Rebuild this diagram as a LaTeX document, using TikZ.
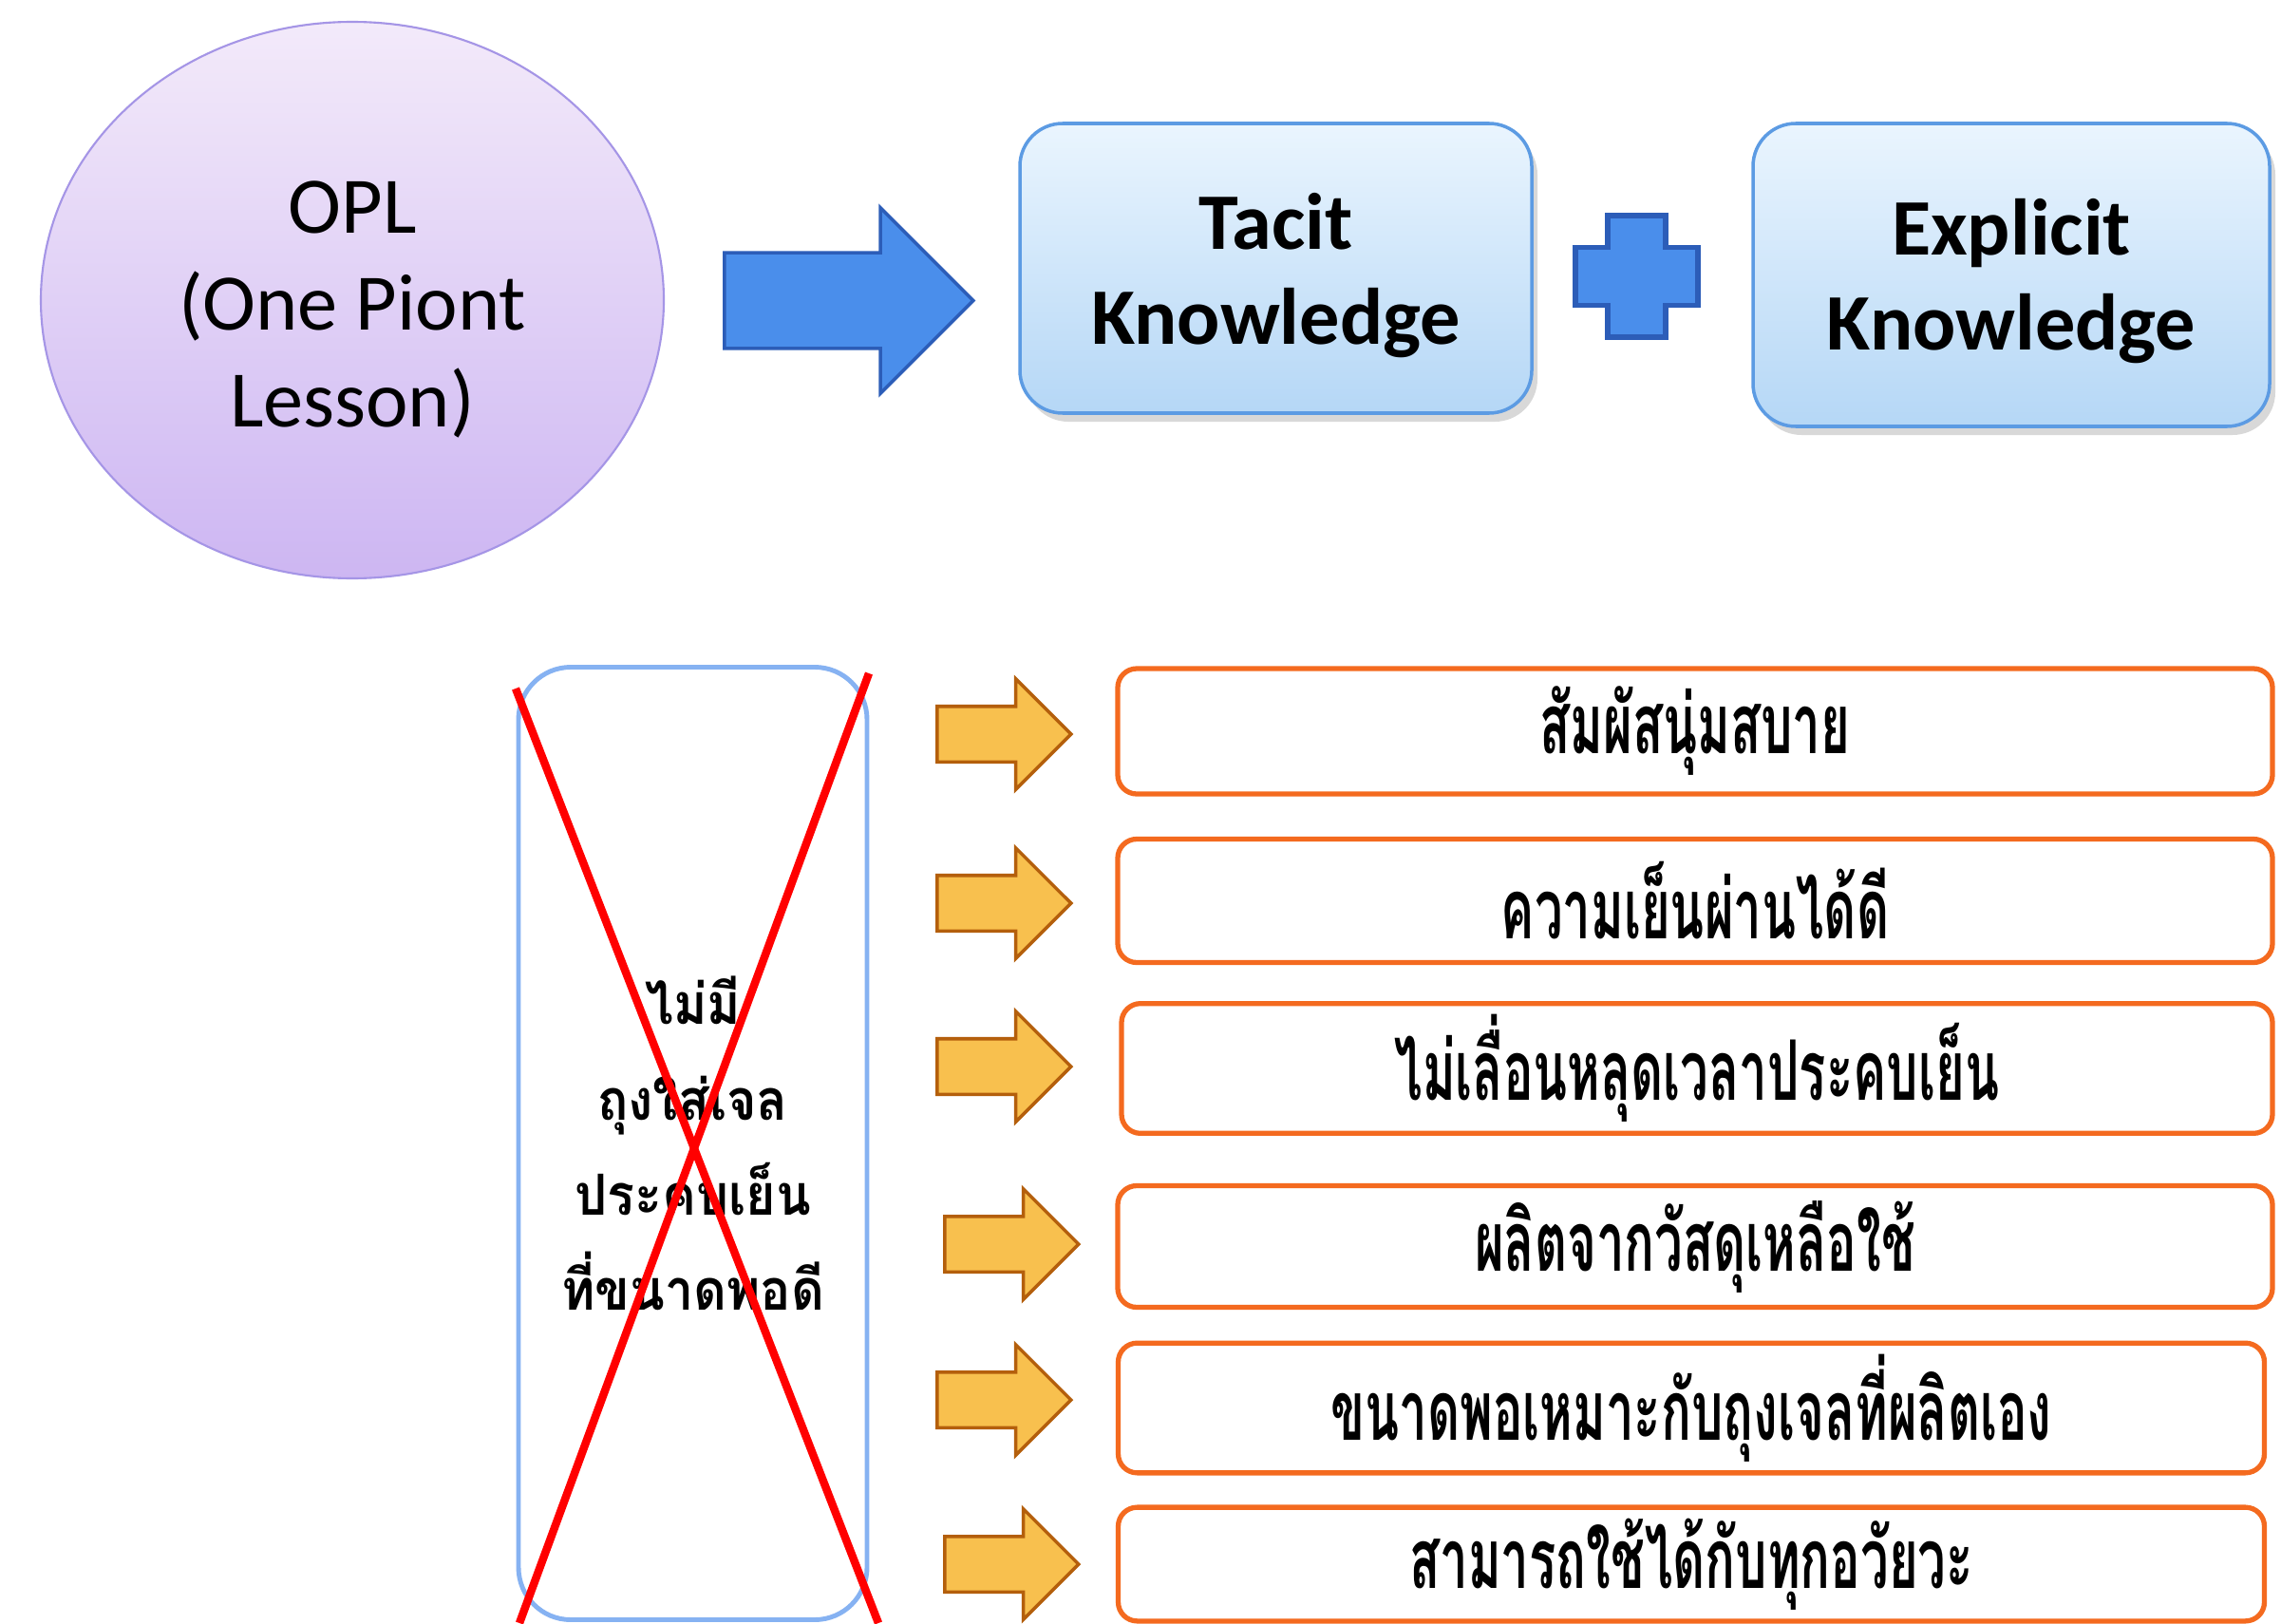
\documentclass[tikz,border=0pt]{standalone}
\usepackage{fontspec}
\setmainfont{Carlito}
\newfontfamily\thaifont[Script=Thai,FakeStretch=0.9]{Loma}
\newfontfamily\thainarrow[Script=Thai,FakeStretch=0.6]{Loma}
\usetikzlibrary{shapes.geometric,shapes.arrows,shadows}
\usetikzlibrary{positioning}
\usepackage{xcolor}

\definecolor{oplTop}{HTML}{F3EAFA}
\definecolor{oplBot}{HTML}{CDB6F2}
\definecolor{oplLine}{HTML}{A595E6}
\definecolor{kTop}{HTML}{EAF5FE}
\definecolor{kBot}{HTML}{B5D7F6}
\definecolor{kLine}{HTML}{5C9BE3}
\definecolor{bigBlue}{HTML}{4A8EEB}
\definecolor{bigBlueLine}{HTML}{2C5DB8}
\definecolor{goldFill}{HTML}{F8C04E}
\definecolor{goldLine}{HTML}{B45F0C}
\definecolor{orangeLine}{HTML}{F46A1F}
\definecolor{gelLine}{HTML}{86B2F2}

% raises the first line so the text block sits a little lower
\newcommand{\topgap}[1]{\rule{0pt}{#1}}

\tikzset{
  opl/.style={ellipse, draw=oplLine, line width=0.6pt, top color=oplTop, bottom color=oplBot,
    minimum width=6.56cm, minimum height=5.86cm, inner sep=0pt, align=center,
    font=\fontsize{24}{29}\selectfont},
  knowbox/.style={draw=kLine, line width=1pt, rounded corners=0.45cm, top color=kTop, bottom color=kBot,
    align=center, font=\fontsize{24}{28.5}\selectfont\bfseries,
    drop shadow={shadow xshift=0.6mm, shadow yshift=-0.9mm, opacity=0.3}},
  bluearrow/.style={single arrow, draw=bigBlueLine, fill=bigBlue, line width=1pt, inner xsep=0pt,
    inner ysep=0.485cm, single arrow head extend=0.475cm, minimum height=2.62cm},
  goldarrow/.style={single arrow, draw=goldLine, fill=goldFill, line width=1pt, inner xsep=0pt,
    inner ysep=0.275cm, single arrow head extend=0.29cm, minimum height=1.41cm},
  featbox/.style={draw=orangeLine, line width=1.5pt, rounded corners=0.2cm, fill=white,
    minimum width=12.16cm, font=\thainarrow\bfseries\fontsize{25}{28}\selectfont},
  gelbox/.style={draw=gelLine, line width=1.4pt, rounded corners=0.55cm,
    minimum width=3.67cm, minimum height=10.03cm, align=center,
    font=\thaifont\bfseries\fontsize{17}{28.5}\selectfont},
  plusshape/.style={draw=bigBlueLine, fill=bigBlue, line width=1.5pt},
  crossline/.style={red, line width=2.4pt}
}

\begin{document}
\begin{tikzpicture}
\useasboundingbox (0,0) rectangle (24.02,-17.09);
\fill[white] (0,0) rectangle (24.02,-17.09);

% top row
\node[opl] (opl) at (3.71,-3.16) {\topgap{0.74cm}OPL\\(One Piont\\Lesson)};
\node[bluearrow, anchor=tail] (toknow) at (7.61,-3.165) {};
\node[knowbox, minimum width=5.39cm, minimum height=3.05cm] (tacit) at (13.435,-2.825) {\topgap{0.75cm}Tacit\\Knowledge};
\node[knowbox, minimum width=5.44cm, minimum height=3.19cm] (explicit) at (21.18,-2.895) {\topgap{0.72cm}Explicit\\Knowledge};
\draw[plusshape, shift={(17.235,-2.91)}] (-0.305,0.64) -- (0.305,0.64) -- (0.305,0.305) -- (0.645,0.305)
  -- (0.645,-0.305) -- (0.305,-0.305) -- (0.305,-0.64) -- (-0.305,-0.64) -- (-0.305,-0.305)
  -- (-0.645,-0.305) -- (-0.645,0.305) -- (-0.305,0.305) -- cycle;

% crossed out gel box
\node[gelbox] (gel) at (7.295,-12.04) {ไม่มี\\ถุงใส่เจล\\ประคบเย็น\\ที่ขนาดพอดี};
\coordinate (xa) at (5.43,-7.25);
\coordinate (xb) at (9.25,-17.09);
\coordinate (xc) at (9.15,-7.09);
\coordinate (xd) at (5.47,-17.09);
\draw[crossline] (xa) -- (xb);
\draw[crossline] (xc) -- (xd);

% features
\node[goldarrow, anchor=tail] (arr1) at (9.85,-7.73) {};
\node[featbox, minimum height=1.32cm] (feat1) at (17.85,-7.70) {สัมผัสนุ่มสบาย};
\node[goldarrow, anchor=tail] (arr2) at (9.85,-9.51) {};
\node[featbox, minimum height=1.30cm] (feat2) at (17.85,-9.485) {ความเย็นผ่านได้ดี};
\node[goldarrow, anchor=tail] (arr3) at (9.85,-11.23) {};
\node[featbox, minimum height=1.30cm, minimum width=12.12cm] (feat3) at (17.87,-11.25) {ไม่เลื่อนหลุดเวลาประคบเย็น};
\node[goldarrow, anchor=tail] (arr4) at (9.93,-13.10) {};
\node[featbox, minimum height=1.28cm] (feat4) at (17.85,-13.125) {ผลิตจากวัสดุเหลือใช้};
\node[goldarrow, anchor=tail] (arr5) at (9.85,-14.74) {};
\node[featbox, minimum height=1.16cm, minimum width=12.07cm] (feat5) at (17.81,-14.825) {ขนาดพอเหมาะกับถุงเจลที่ผลิตเอง};
\node[goldarrow, anchor=tail] (arr6) at (9.93,-16.47) {};
\node[featbox, minimum height=1.16cm, minimum width=12.07cm] (feat6) at (17.81,-16.47) {สามารถใช้ได้กับทุกอวัยวะ};
\end{tikzpicture}
\end{document}
